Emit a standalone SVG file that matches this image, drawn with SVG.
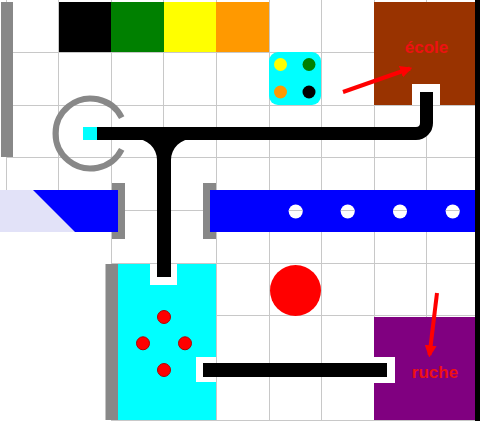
<svg xmlns="http://www.w3.org/2000/svg" width="480" height="423" viewBox="0 0 480 423">
<defs>
<style>
.g{stroke:#c8c8c8;stroke-width:1;fill:none}
.gray{fill:#888888}
.pipe{stroke:#000;stroke-width:13;fill:none}
.arr{stroke:#ff0000;stroke-width:4;fill:none;marker-end:url(#ah)}
.lbl{font-family:"Liberation Sans",Arial,sans-serif;font-weight:bold;font-size:17px;fill:#ee1111;text-anchor:middle}
.rd{fill:#ff0000;stroke:#b00000;stroke-width:1}
.hole{fill:#fff}
</style>
<marker id="ah" viewBox="0 0 10 10" refX="8" refY="5" markerWidth="3" markerHeight="3" orient="auto">
<path d="M0,0 L10,5 L0,10 Z" fill="#ff0000"/>
</marker>
</defs>
<rect width="480" height="423" fill="#fff"/>
<g id="grid">
<path class="g" d="M6.5,0V232M58.5,0V232M111.5,0V421M163.5,0V421M216.5,0V421M269.5,0V421M321.5,0V421M374.5,0V421M426.5,0V421"/>
<path class="g" d="M6,52.5H479M6,105.5H479M6,157.5H479M6,210.5H479M111,263.5H479M111,315.5H479M111,368.5H479M111,420.5H479"/>
</g>
<g id="left-wall"><rect class="gray" x="1" y="2" width="12" height="155"/></g>
<g id="right-wall"><rect x="475" y="0" width="5" height="421" fill="#000"/></g>
<g id="colors">
<rect x="59" y="2" width="52" height="50" fill="#000"/>
<rect x="111" y="2" width="53" height="50" fill="#008000"/>
<rect x="164" y="2" width="52" height="50" fill="#ffff00"/>
<rect x="216" y="2" width="53" height="50" fill="#ff9900"/>
</g>
<g id="ecole">
<rect x="374" y="2" width="101" height="103" fill="#993300"/>
<rect x="412" y="84" width="28" height="21" fill="#fff"/>
<text class="lbl" x="426.5" y="53">école</text>
</g>
<g id="dice">
<rect x="269" y="52" width="52" height="53" rx="9" fill="#00ffff"/>
<circle cx="280.5" cy="64.5" r="6.5" fill="#ffff00"/>
<circle cx="309" cy="64.5" r="6.5" fill="#008000"/>
<circle cx="280.5" cy="92" r="6.5" fill="#ff9900"/>
<circle cx="309" cy="92" r="6.5" fill="#000"/>
</g>
<g id="ring">
<path d="M121.7,117.6 A35,35 0 1 0 121.7,149.4" stroke="#888888" stroke-width="6" fill="none"/>
<rect x="83" y="127" width="14" height="13" fill="#00ffff"/>
</g>
<g id="blue-left">
<rect class="gray" x="112" y="183" width="13" height="56"/>
<rect x="0" y="190" width="118" height="42" fill="#e2e2f8"/>
<polygon points="33,190 118,190 118,232 75,232" fill="#0000ff"/>
</g>
<g id="blue-right">
<rect class="gray" x="203" y="183" width="13" height="56"/>
<rect x="210" y="190" width="265" height="42" fill="#0000ff"/>
<circle class="hole" cx="295.7" cy="211.5" r="7"/>
<circle class="hole" cx="347.7" cy="211.5" r="7"/>
<circle class="hole" cx="400" cy="211.5" r="7"/>
<circle class="hole" cx="452.7" cy="211.5" r="7"/>
<path class="g" d="M288.7,210.5h14M340.7,210.5h14M393,210.5h14M445.7,210.5h14"/>
</g>
<g id="container">
<rect class="gray" x="105.5" y="264" width="13" height="156"/>
<rect x="118" y="264" width="98" height="156" fill="#00ffff"/>
<rect x="150" y="264" width="27" height="21" fill="#fff"/>
<rect x="196" y="357" width="20" height="25" fill="#fff"/>
<circle class="rd" cx="164" cy="317" r="6.5"/>
<circle class="rd" cx="143" cy="343.3" r="6.5"/>
<circle class="rd" cx="185" cy="343.3" r="6.5"/>
<circle class="rd" cx="164" cy="370" r="6.5"/>
</g>
<g id="ball"><circle cx="295.5" cy="290.5" r="25.5" fill="#ff0000"/></g>
<g id="ruche">
<rect x="374" y="317" width="101" height="103" fill="#800080"/>
<rect x="374" y="357" width="21" height="26" fill="#fff"/>
<text class="lbl" x="435" y="378">ruche</text>
</g>
<g id="connectors">
<path class="pipe" d="M97,133.5 H416 A10.5,10.5 0 0 0 426.5,123 V92"/>
<rect x="157" y="133" width="14" height="144" fill="#000"/>
<path d="M135,139 A21,21 0 0 1 157,160 H171 A21,21 0 0 1 193,139 Z" fill="#000"/>
<rect x="203" y="363" width="184" height="14" fill="#000"/>
<line class="arr" x1="343" y1="92" x2="410" y2="68.5"/>
<line class="arr" x1="437" y1="293" x2="429.5" y2="355"/>
</g>
</svg>
